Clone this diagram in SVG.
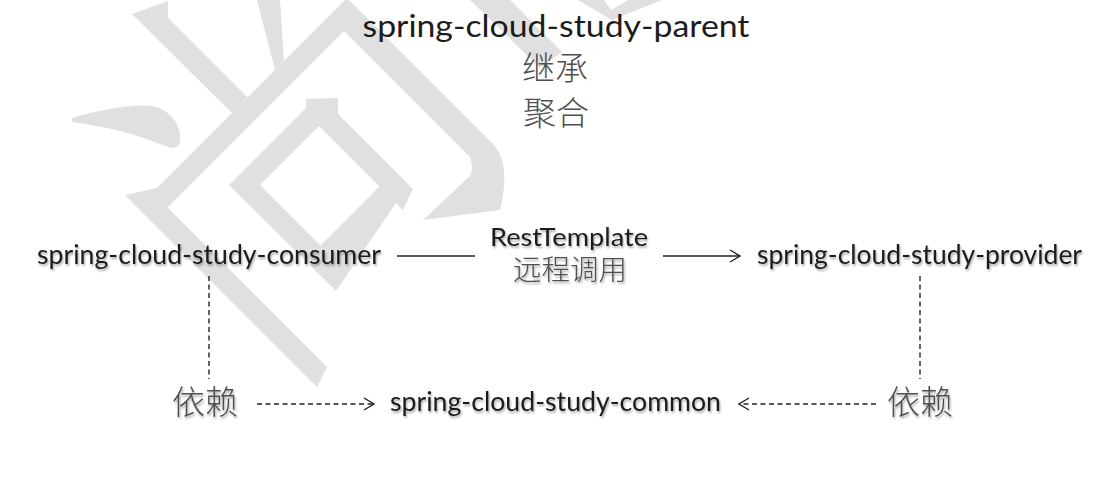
<svg xmlns="http://www.w3.org/2000/svg" width="1113" height="481" viewBox="0 0 1113 481">
  <defs>
    <style>
      .wm { fill: #e0e0e0; stroke: none; }
      .lat { font-family: Lato, "Liberation Sans", "Noto Sans CJK SC", sans-serif; fill: #1c1c1c; }
      .cjk { font-family: "Noto Sans CJK SC", "Noto Sans CJK JP", sans-serif; font-weight: 300; fill: #505050; }
      .shadow { filter: url(#sh); }
      .solid { stroke: #222; stroke-width: 1.4; fill: none; }
      .dash { stroke: #222; stroke-width: 1.4; fill: none; stroke-dasharray: 5 3.5; }
    </style>
    <filter id="sh" x="-5%" y="-30%" width="110%" height="160%">
      <feGaussianBlur in="SourceAlpha" stdDeviation="1.3"/>
      <feOffset dx="1" dy="2" result="b"/>
      <feComponentTransfer><feFuncA type="linear" slope="0.35"/></feComponentTransfer>
      <feMerge><feMergeNode/><feMergeNode in="SourceGraphic"/></feMerge>
    </filter>
    <marker id="chev" viewBox="0 0 12 14" refX="11" refY="7" markerWidth="12" markerHeight="14" markerUnits="userSpaceOnUse" orient="auto">
      <path d="M1,1 L11,7 L1,13" fill="none" stroke="#222" stroke-width="1.4"/>
    </marker>
  </defs>
  <rect width="1113" height="481" fill="#ffffff"/>

  <g id="watermark">
    <path class="wm" d="M72,118 C100,110 130,104 152,106 C170,109 182,126 180,141 C179,149 172,149 165,146 C140,135 105,126 72,122 Z"/>
    <path class="wm" d="M132,14 L168,1 L168,18 L247.5,97.5 L232,113 Z"/>
    <path class="wm" d="M257,0 L280,0 L284,61 L275,70 Z"/>
    <path class="wm" d="M317,387 L125,195 L157,188 L347,-2 L494,145 Q511,164 500,210 L423,220 L470,176 Q474,168 470,157 L344,31 L167.5,207.5 L327,367 Z"/>
    <path class="wm" fill-rule="evenodd" d="M229,185 L306,108 L306,99 L338,98 L338,114 L413,189 L403,210 L396,203 L336,291 Z M260,185 L319,126 L379.5,186.5 L320.5,245.5 Z"/>
    <path class="wm" d="M470,0 L510,0 L562,52 L540,68 Z"/>
    <path class="wm" d="M578,0 L604,0 L611,10 L628,0 L662,0 L612,20 Z"/>
  </g>

  <g id="connectors">
    <line class="solid" x1="397" y1="256" x2="475" y2="256"/>
    <line class="solid" x1="663" y1="256" x2="740" y2="256" marker-end="url(#chev)"/>
    <line class="dash" x1="209" y1="276" x2="209" y2="379"/>
    <line class="dash" x1="920" y1="276" x2="920" y2="379"/>
    <line class="dash" x1="257" y1="404" x2="374" y2="404" marker-end="url(#chev)"/>
    <line class="dash" x1="876" y1="404" x2="739" y2="404" marker-end="url(#chev)"/>
  </g>

  <g id="parent">
    <text class="lat" x="556" y="37" font-size="30" text-anchor="middle" textLength="387" lengthAdjust="spacingAndGlyphs">spring-cloud-study-parent</text>
    <text class="cjk" x="555" y="80" font-size="33" text-anchor="middle">继承</text>
    <text class="cjk" x="556" y="125" font-size="33" text-anchor="middle">聚合</text>
  </g>

  <g id="consumer" class="shadow">
    <text class="lat" x="37" y="264" font-size="26" textLength="344" lengthAdjust="spacingAndGlyphs">spring-cloud-study-consumer</text>
  </g>

  <g id="resttemplate-label" class="shadow">
    <text class="lat" x="569" y="246" font-size="25" text-anchor="middle" textLength="158" lengthAdjust="spacingAndGlyphs">RestTemplate</text>
    <text class="cjk" x="570" y="280" font-size="28" text-anchor="middle" textLength="114" lengthAdjust="spacingAndGlyphs">远程调用</text>
  </g>

  <g id="provider" class="shadow">
    <text class="lat" x="757" y="264" font-size="26" textLength="325" lengthAdjust="spacingAndGlyphs">spring-cloud-study-provider</text>
  </g>

  <g id="dep-left" class="shadow">
    <text class="cjk" x="205" y="414" font-size="33" text-anchor="middle">依赖</text>
  </g>

  <g id="common" class="shadow">
    <text class="lat" x="390" y="411" font-size="26" textLength="331" lengthAdjust="spacingAndGlyphs">spring-cloud-study-common</text>
  </g>

  <g id="dep-right" class="shadow">
    <text class="cjk" x="920" y="414" font-size="33" text-anchor="middle">依赖</text>
  </g>
</svg>
